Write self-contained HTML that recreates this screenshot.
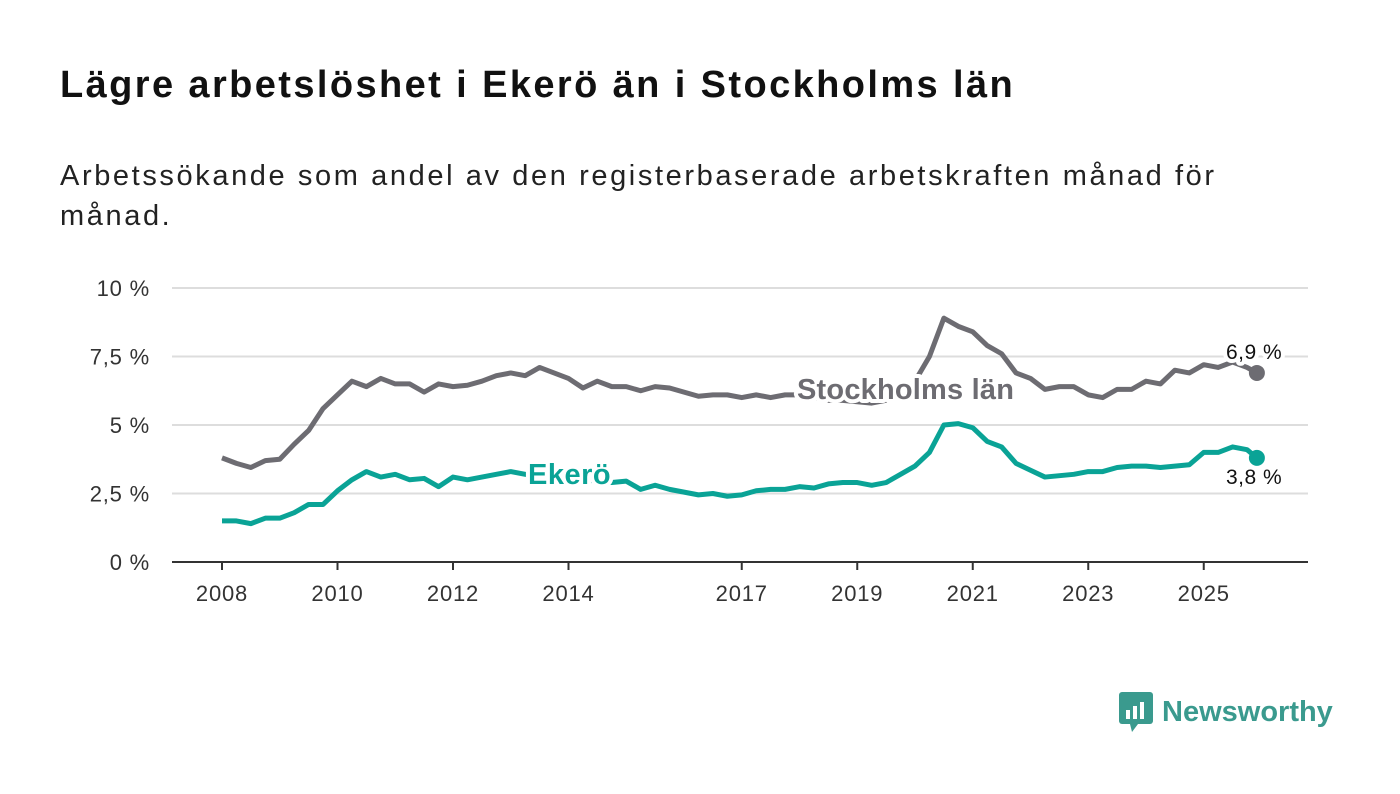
<!DOCTYPE html>
<html><head><meta charset="utf-8"><style>
body{margin:0;background:#fff;width:1400px;height:794px;overflow:hidden;font-family:"Liberation Sans",sans-serif;}
h1{position:absolute;left:60px;top:64px;margin:0;font-size:38px;letter-spacing:2.4px;font-weight:bold;color:#111;white-space:nowrap;}
.sub{position:absolute;left:60px;top:156px;width:1200px;font-size:29px;letter-spacing:2.6px;line-height:40px;color:#222;}
svg{position:absolute;left:0;top:0;}
</style></head><body>
<h1>Lägre arbetslöshet i Ekerö än i Stockholms län</h1>
<div class="sub">Arbetssökande som andel av den registerbaserade arbetskraften månad för månad.</div>
<svg width="1400" height="794" id="chart"></svg>
<div style="position:absolute;left:1118px;top:690px;display:flex;align-items:center;">
<svg width="36" height="44" style="position:static"><rect x="1" y="2" width="34" height="32" rx="3" fill="#3a9a8e"/><polygon points="12,34 20,34 14,42" fill="#3a9a8e"/><rect x="8" y="20" width="4" height="9" fill="#fff"/><rect x="15" y="16" width="4" height="13" fill="#fff"/><rect x="22" y="12" width="4" height="17" fill="#fff"/></svg>
<span style="font-size:29px;color:#3a9a8e;margin-left:8px;font-weight:bold;">Newsworthy</span></div>
<script>
const years=["2008","2010","2012","2014","2017","2019","2021","2023","2025"];
const yTicks=[0,2.5,5,7.5,10];
const yTickLabels=["0 %","2,5 %","5 %","7,5 %","10 %"];
const sthlm=[3.8,3.6,3.45,3.7,3.75,4.3,4.8,5.6,6.1,6.6,6.4,6.7,6.5,6.5,6.2,6.5,6.4,6.45,6.6,6.8,6.9,6.8,7.1,6.9,6.7,6.35,6.6,6.4,6.4,6.25,6.4,6.35,6.2,6.05,6.1,6.1,6.0,6.1,6.0,6.1,6.1,6.0,5.9,5.9,5.85,5.8,5.9,6.1,6.6,7.5,8.9,8.6,8.4,7.9,7.6,6.9,6.7,6.3,6.4,6.4,6.1,6.0,6.3,6.3,6.6,6.5,7.0,6.9,7.2,7.1,7.3,7.1,6.9];
const ekero=[1.5,1.5,1.4,1.6,1.6,1.8,2.1,2.1,2.6,3.0,3.3,3.1,3.2,3.0,3.05,2.75,3.1,3.0,3.1,3.2,3.3,3.2,3.2,3.05,3.0,3.0,2.95,2.9,2.95,2.65,2.8,2.65,2.55,2.45,2.5,2.4,2.45,2.6,2.65,2.65,2.75,2.7,2.85,2.9,2.9,2.8,2.9,3.2,3.5,4.0,5.0,5.05,4.9,4.4,4.2,3.6,3.35,3.1,3.15,3.2,3.3,3.3,3.45,3.5,3.5,3.45,3.5,3.55,4.0,4.0,4.2,4.1,3.8];
const ns="http://www.w3.org/2000/svg",svg=document.getElementById('chart');
const X=t=>222+(t-2008)*57.75, Y=v=>562-v*27.4;
const tOf=i=>i<72?2008+i*0.25:2025.92;
function el(tag,a,parent){const e=document.createElementNS(ns,tag);for(const k in a)e.setAttribute(k,a[k]);(parent||svg).appendChild(e);return e;}
yTicks.forEach((v,i)=>{
 const g=el('line',{x1:172,x2:1308,y1:Y(v),y2:Y(v),stroke:v===0?'#333':'#ddd','stroke-width':2});
 
 
 const t=el('text',{x:150,y:Y(v)+8,'text-anchor':'end','font-size':22,'letter-spacing':0.8,fill:'#333'});t.textContent=yTickLabels[i];
 
 
});
years.forEach(y=>{
 const x=X(+y);
 const l=el('line',{x1:x,x2:x,y1:562,y2:570,stroke:'#333','stroke-width':2});
 
 
 const t=el('text',{x:x,y:601,'text-anchor':'middle','font-size':22,'letter-spacing':0.8,fill:'#333'});t.textContent=y;
 
 
});
function line(data,color,name){
 const p=el('polyline',{points:data.map((v,i)=>X(tOf(i))+','+Y(v)).join(' '),fill:'none',stroke:color,'stroke-width':5,'stroke-linejoin':'round'});
 
 
 const n=data.length-1;
 const c=el('circle',{cx:X(tOf(n)),cy:Y(data[n]),r:8,fill:color});
 
 
}
line(sthlm,'#6d6c72','stockholm-line');
line(ekero,'#0aa396','ekero-line');
function lab(txt,x,y,color,size,weight,ls,name){
 const t=el('text',{x:x,y:y,'font-size':size,'font-weight':weight,'letter-spacing':ls,fill:color,stroke:'#fff','stroke-width':8,'paint-order':'stroke','stroke-linejoin':'round'});t.textContent=txt;
 
 
}
lab('Stockholms län',797,399,'#6d6c72',29,'bold',0.2,'stockholm-label');
lab('Ekerö',528,484,'#0aa396',29,'bold',0.5,'ekero-label');
lab('6,9 %',1226,359,'#111',21,'normal',0.5,'stockholm-end-value');
lab('3,8 %',1226,484,'#111',21,'normal',0.5,'ekero-end-value');
</script>
</body></html>
